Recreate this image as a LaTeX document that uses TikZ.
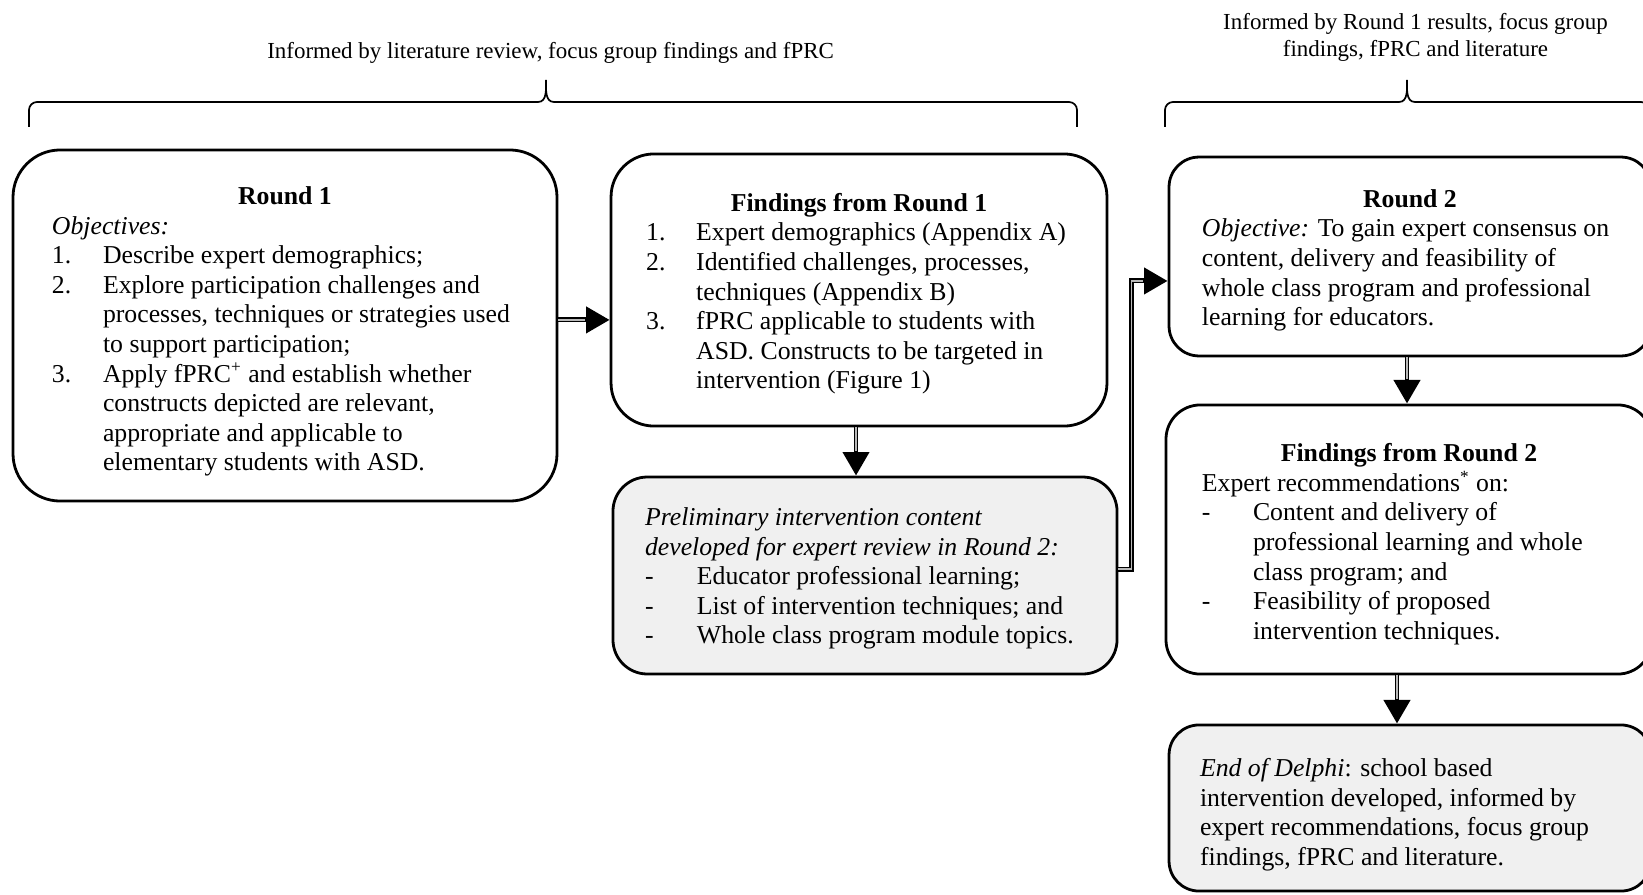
\documentclass[tikz,border=0pt]{standalone}
\usepackage{fontspec}
\setmainfont{Liberation Serif}
\usepackage{tikz}
\usetikzlibrary{arrows.meta,positioning,calc}

\newcommand{\bodyfont}{\fontsize{12}{13.8}\selectfont}
\newcommand{\notefont}{\fontsize{10.7}{12.6}\selectfont}
% extra space above the first line of a box
\newcommand{\toppad}[1]{\noalign{\vskip #1}}

\begin{document}
\begin{tikzpicture}[
    x=0.466pt, y=-0.466pt,
    stage/.style={
        draw, line width=1.3pt, rounded corners=16pt,
        inner sep=0pt, align=left, font=\bodyfont, fill=white
    },
    shaded/.style={stage, fill=black!6},
    note/.style={inner sep=0pt, align=center, font=\notefont},
    brace/.style={line width=0.8pt},
    link/.style={
        line width=2.3pt, -{Triangle[length=11pt,width=12pt]},
        postaction={draw=gray!55, line width=0.7pt, arrows=-, shorten >=11.5pt}
    }
]
\useasboundingbox (0,0) rectangle (1643,894);
\path[fill=white] (0,0) rectangle (1643,894);

% 1. What each round is informed by
\node[note] (litnote) at (550.6,53) {Informed by literature review, focus group findings and fPRC};
\node[note] (resnote) at (1415.5,37) {Informed by Round 1 results, focus group\\findings, fPRC and literature};

\draw[brace] (29,127) -- (29,110) to[out=90,in=180] (37,102) -- (538,102)
    to[out=0,in=-90] (546,80) to[out=-90,in=180] (554,102) -- (1069,102)
    to[out=0,in=90] (1077,110) -- (1077,127);
\draw[brace] (1165,127) -- (1165,110) to[out=90,in=180] (1173,102) -- (1399,102)
    to[out=0,in=-90] (1407,80) to[out=-90,in=180] (1415,102) -- (1641,102)
    to[out=0,in=90] (1649,110) -- (1649,127);

% 2. Round 1
\node[stage, minimum width=253.5pt, minimum height=163.6pt, rounded corners=22pt] (round1) at (285,325.5) {%
\begin{tabular}{@{}p{23.8pt}@{}p{193.4pt}@{}}
\toppad{5.8pt}
\multicolumn{2}{@{}c@{}}{\textbf{Round 1}}\\
\multicolumn{2}{@{}l@{}}{\textit{Objectives:}}\\
1. & Describe expert demographics;\\
2. & Explore participation challenges and\\
   & processes, techniques or strategies used\\
   & to support participation;\\
3. & Apply fPRC\textsuperscript{+} and establish whether\\
   & constructs depicted are relevant,\\
   & appropriate and applicable to\\
   & elementary students with ASD.
\end{tabular}};

\node[stage, minimum width=231.1pt, minimum height=126.8pt, rounded corners=20pt] (find1) at (859,290) {%
\begin{tabular}{@{}p{23.3pt}@{}p{175pt}@{}}
\toppad{3.9pt}
\multicolumn{2}{@{}c@{}}{\textbf{Findings from Round 1}}\\
1. & Expert demographics (Appendix A)\\
2. & Identified challenges, processes,\\
   & techniques (Appendix B)\\
3. & fPRC applicable to students with\\
   & ASD. Constructs to be targeted in\\
   & intervention (Figure 1)
\end{tabular}};

\node[shaded, minimum width=234.9pt, minimum height=91.8pt] (prelim) at (865,575.5) {%
\begin{tabular}{@{}p{24.2pt}@{}p{180.8pt}@{}}
\toppad{3pt}
\multicolumn{2}{@{}l@{}}{\textit{Preliminary intervention content}}\\
\multicolumn{2}{@{}l@{}}{\textit{developed for expert review in Round 2:}}\\
- & Educator professional learning;\\
- & List of intervention techniques; and\\
- & Whole class program module topics.
\end{tabular}};

% 3. Round 2
\node[stage, minimum width=224.6pt, minimum height=92.7pt, rounded corners=14pt] (round2) at (1410,256.5) {%
\begin{tabular}{@{}p{193.9pt}@{}}
\toppad{3.9pt}
\multicolumn{1}{@{}c@{}}{\textbf{Round 2}}\\
\textit{Objective:} To gain expert consensus on\\
content, delivery and feasibility of\\
whole class program and professional\\
learning for educators.
\end{tabular}};

\node[stage, minimum width=226.5pt, minimum height=125.4pt] (find2) at (1409,539.5) {%
\begin{tabular}{@{}p{23.8pt}@{}p{169.2pt}@{}}
\toppad{4.8pt}
\multicolumn{2}{@{}c@{}}{\textbf{Findings from Round 2}}\\
\multicolumn{2}{@{}l@{}}{Expert recommendations\textsuperscript{*} on:}\\
- & Content and delivery of\\
  & professional learning and whole\\
  & class program; and\\
- & Feasibility of proposed\\
  & intervention techniques.
\end{tabular}};

\node[shaded, minimum width=224.6pt, minimum height=77.4pt, rounded corners=14pt] (delphi) at (1410,808) {%
\begin{tabular}{@{}p{195.7pt}@{}}
\toppad{6.6pt}
\textit{End of Delphi}: school based\\
intervention developed, informed by\\
expert recommendations, focus group\\
findings, fPRC and literature.
\end{tabular}};

% Links
\draw[link] ([yshift=2.6pt]round1.east) -- ([yshift=2.6pt]round1.east -| find1.west);
\draw[link] ([xshift=-1.4pt]find1.south) -- ([xshift=-1.4pt]find1.south |- prelim.north);
\draw[link] ([yshift=3pt]prelim.east) -- ++(13,0) |- ([yshift=-11.4pt]round2.west);
\draw[link] ([xshift=-1.4pt]round2.south) -- ([xshift=-1.4pt]round2.south |- find2.north);
\draw[link] ([xshift=-5.6pt]find2.south) -- ([xshift=-5.6pt]find2.south |- delphi.north);

\end{tikzpicture}
\end{document}
